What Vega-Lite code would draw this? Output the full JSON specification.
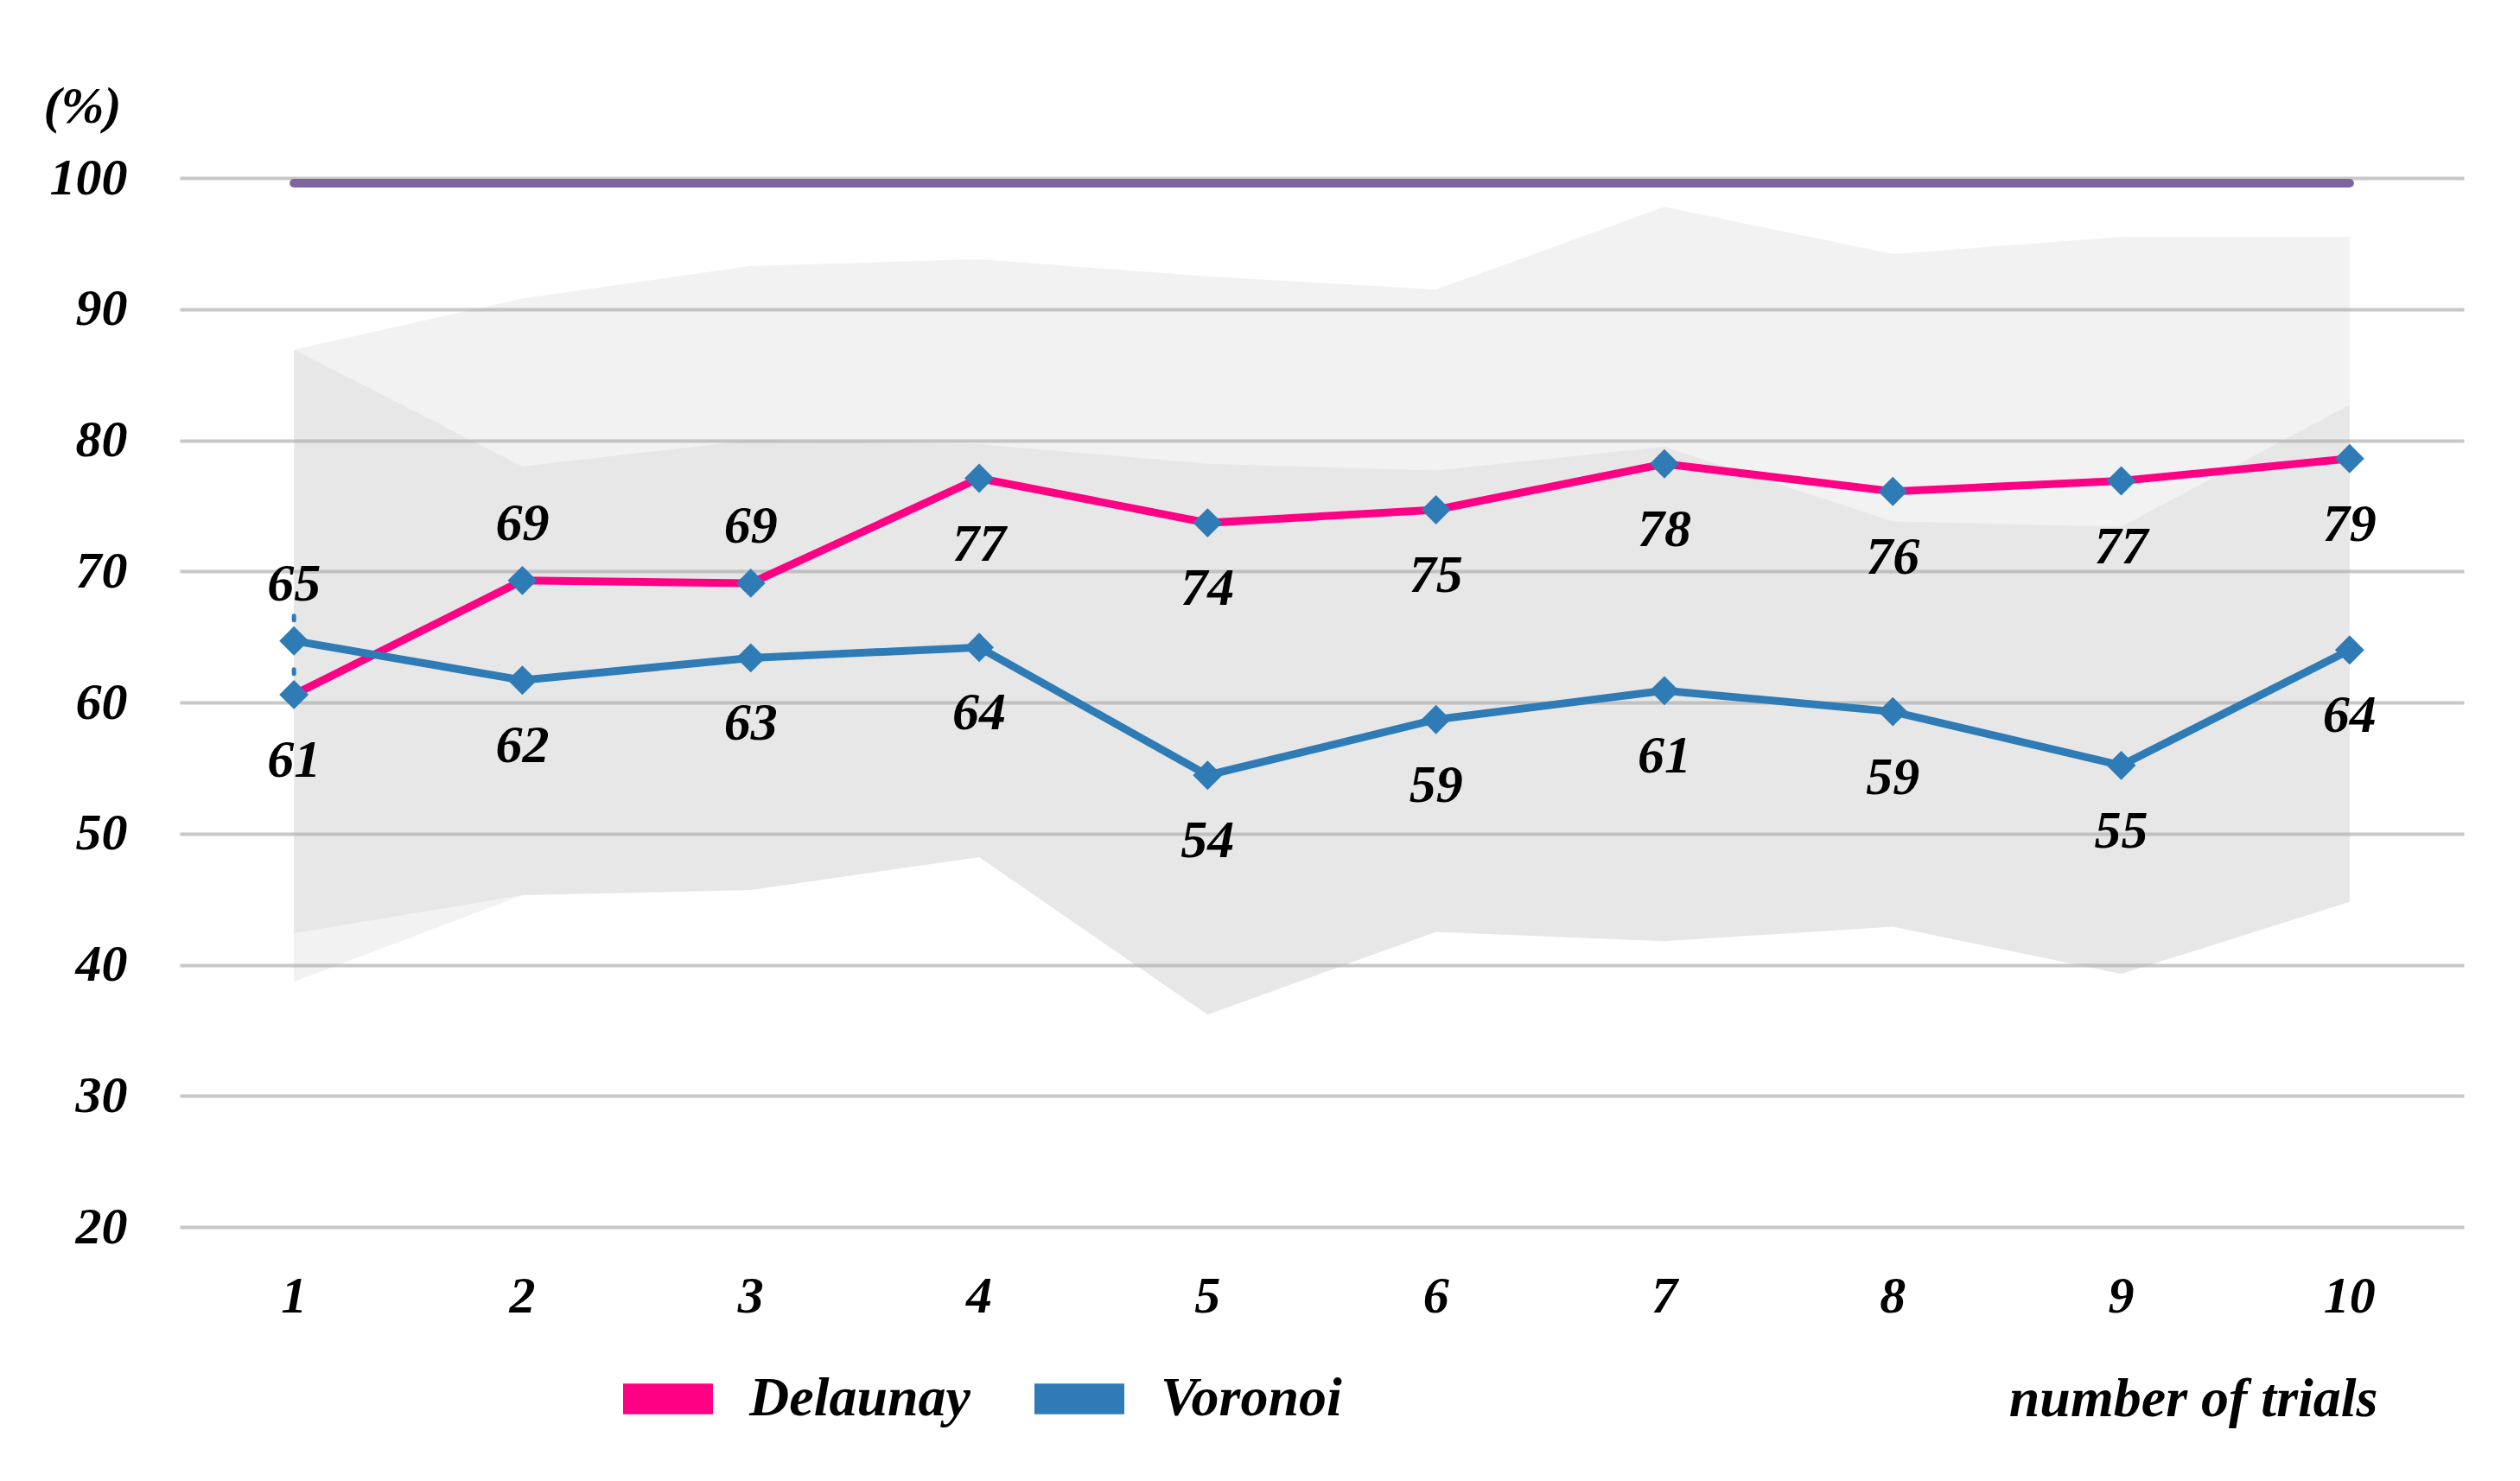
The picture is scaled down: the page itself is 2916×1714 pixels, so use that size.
{
  "$schema": "https://vega.github.io/schema/vega-lite/v6.json",
  "width": 2643,
  "height": 1214,
  "autosize": {"type": "none"},
  "padding": {"left": 208, "top": 206, "right": 65, "bottom": 294},
  "background": "white",
  "datasets": {
    "series": [
      {"trial": 1, "method": "Delaunay", "rate": 60.6},
      {"trial": 2, "method": "Delaunay", "rate": 69.3},
      {"trial": 3, "method": "Delaunay", "rate": 69.1},
      {"trial": 4, "method": "Delaunay", "rate": 77.1},
      {"trial": 5, "method": "Delaunay", "rate": 73.7},
      {"trial": 6, "method": "Delaunay", "rate": 74.7},
      {"trial": 7, "method": "Delaunay", "rate": 78.2},
      {"trial": 8, "method": "Delaunay", "rate": 76.1},
      {"trial": 9, "method": "Delaunay", "rate": 76.9},
      {"trial": 10, "method": "Delaunay", "rate": 78.6},
      {"trial": 1, "method": "Voronoi", "rate": 64.7},
      {"trial": 2, "method": "Voronoi", "rate": 61.7},
      {"trial": 3, "method": "Voronoi", "rate": 63.4},
      {"trial": 4, "method": "Voronoi", "rate": 64.2},
      {"trial": 5, "method": "Voronoi", "rate": 54.45},
      {"trial": 6, "method": "Voronoi", "rate": 58.7},
      {"trial": 7, "method": "Voronoi", "rate": 60.9},
      {"trial": 8, "method": "Voronoi", "rate": 59.3},
      {"trial": 9, "method": "Voronoi", "rate": 55.2},
      {"trial": 10, "method": "Voronoi", "rate": 64.0}
    ],
    "bands": [
      {"trial": 1, "band": "Delaunay", "upper": 86.9, "lower": 38.7},
      {"trial": 2, "band": "Delaunay", "upper": 90.8, "lower": 45.3},
      {"trial": 3, "band": "Delaunay", "upper": 93.3, "lower": 45.7},
      {"trial": 4, "band": "Delaunay", "upper": 93.8, "lower": 48.2},
      {"trial": 5, "band": "Delaunay", "upper": 92.5, "lower": 36.2},
      {"trial": 6, "band": "Delaunay", "upper": 91.5, "lower": 42.5},
      {"trial": 7, "band": "Delaunay", "upper": 97.8, "lower": 41.8},
      {"trial": 8, "band": "Delaunay", "upper": 94.2, "lower": 42.9},
      {"trial": 9, "band": "Delaunay", "upper": 95.5, "lower": 39.3},
      {"trial": 10, "band": "Delaunay", "upper": 95.5, "lower": 44.8},
      {"trial": 1, "band": "Voronoi", "upper": 86.9, "lower": 42.4},
      {"trial": 2, "band": "Voronoi", "upper": 78.0, "lower": 45.3},
      {"trial": 3, "band": "Voronoi", "upper": 80.0, "lower": 45.7},
      {"trial": 4, "band": "Voronoi", "upper": 79.7, "lower": 48.2},
      {"trial": 5, "band": "Voronoi", "upper": 78.2, "lower": 36.2},
      {"trial": 6, "band": "Voronoi", "upper": 77.7, "lower": 42.5},
      {"trial": 7, "band": "Voronoi", "upper": 79.5, "lower": 41.8},
      {"trial": 8, "band": "Voronoi", "upper": 73.8, "lower": 42.9},
      {"trial": 9, "band": "Voronoi", "upper": 73.4, "lower": 39.3},
      {"trial": 10, "band": "Voronoi", "upper": 82.7, "lower": 44.8}
    ],
    "ref": [
      {"trial": 1, "rate": 99.6},
      {"trial": 2, "rate": 99.6},
      {"trial": 3, "rate": 99.6},
      {"trial": 4, "rate": 99.6},
      {"trial": 5, "rate": 99.6},
      {"trial": 6, "rate": 99.6},
      {"trial": 7, "rate": 99.6},
      {"trial": 8, "rate": 99.6},
      {"trial": 9, "rate": 99.6},
      {"trial": 10, "rate": 99.6}
    ],
    "err": [
      {"trial": 1, "high": 66.6, "low": 60.6}
    ]
  },
  "config": {
    "view": {"stroke": null},
    "font": "Liberation Serif",
    "axis": {
      "domain": false,
      "ticks": false,
      "labelFont": "Liberation Serif",
      "labelFontStyle": "italic",
      "labelFontWeight": "bold",
      "labelFontSize": 60,
      "labelColor": "black",
      "titleFont": "Liberation Serif",
      "titleFontStyle": "italic",
      "titleFontWeight": "bold",
      "titleColor": "black"
    },
    "axisX": {
      "grid": false,
      "labelAngle": 0,
      "labelBaseline": "middle",
      "labelPadding": 80,
      "titleFontSize": 64,
      "titleX": 2543,
      "titleY": 199,
      "titleAlign": "right",
      "titleAnchor": "end",
      "titleBaseline": "middle"
    },
    "axisY": {
      "grid": true,
      "gridColor": "#c8c8c8",
      "gridWidth": 4,
      "labelPadding": 61,
      "titleFontSize": 60,
      "titleAngle": 0,
      "titleX": -158,
      "titleY": -83,
      "titleAlign": "left",
      "titleAnchor": "start",
      "titleBaseline": "middle"
    },
    "legend": {"labelLimit": 0}
  },
  "encoding": {
    "x": {
      "field": "trial",
      "type": "ordinal",
      "title": "number of trials",
      "scale": {"paddingInner": 0, "paddingOuter": 0}
    }
  },
  "layer": [
    {
      "data": {"name": "bands"},
      "mark": {"type": "area", "fill": "#b0b0b0", "opacity": 0.17},
      "encoding": {
        "y": {
          "field": "upper",
          "type": "quantitative",
          "title": "(%)",
          "scale": {"domain": [20, 100], "nice": false, "zero": false},
          "axis": {"values": [20, 30, 40, 50, 60, 70, 80, 90, 100]}
        },
        "y2": {"field": "lower"},
        "detail": {"field": "band"}
      }
    },
    {
      "data": {"name": "ref"},
      "mark": {"type": "line", "stroke": "#8064A2", "strokeWidth": 10, "strokeCap": "round"},
      "encoding": {
        "y": {"field": "rate", "type": "quantitative", "title": "(%)"}
      }
    },
    {
      "data": {"name": "err"},
      "mark": {"type": "rule", "stroke": "#2E7BB6", "strokeWidth": 5, "strokeDash": [5, 26], "strokeCap": "round"},
      "encoding": {
        "y": {"field": "high", "type": "quantitative", "title": "(%)"},
        "y2": {"field": "low"}
      }
    },
    {
      "data": {"name": "series"},
      "mark": {"type": "line", "strokeWidth": 9},
      "encoding": {
        "y": {"field": "rate", "type": "quantitative", "title": "(%)"},
        "color": {
          "field": "method",
          "type": "nominal",
          "scale": {"domain": ["Delaunay", "Voronoi"], "range": ["#FF0084", "#2E7BB6"]},
          "legend": {
            "orient": "none",
            "legendX": 513,
            "legendY": 1361,
            "direction": "horizontal",
            "title": null,
            "labelFont": "Liberation Serif",
            "labelFontStyle": "italic",
            "labelFontWeight": "bold",
            "labelFontSize": 64,
            "labelColor": "black",
            "labelLimit": 0,
            "labelOffset": 42,
            "columnPadding": 74,
            "symbolType": "M-1,-0.34L1,-0.34L1,0.34L-1,0.34Z",
            "symbolSize": 10816,
            "symbolStrokeWidth": 0,
            "encode": {
              "symbols": {
                "update": {
                  "fill": {"scale": "color", "field": "value"},
                  "fillOpacity": {"value": 1},
                  "strokeWidth": {"value": 0}
                }
              }
            }
          }
        }
      }
    },
    {
      "data": {"name": "series"},
      "mark": {"type": "point", "shape": "diamond", "filled": true, "fill": "#2E7BB6", "opacity": 1, "size": 1150, "strokeWidth": 0},
      "encoding": {
        "y": {"field": "rate", "type": "quantitative", "title": "(%)"}
      }
    },
    {
      "data": {"name": "series"},
      "transform": [
        {"filter": "!((datum.method === 'Delaunay' && (datum.trial === 2 || datum.trial === 3)) || (datum.method === 'Voronoi' && datum.trial === 1))"}
      ],
      "mark": {"type": "text", "font": "Liberation Serif", "fontStyle": "italic", "fontWeight": "bold", "fontSize": 62, "color": "black", "baseline": "middle", "dy": 76},
      "encoding": {
        "y": {"field": "rate", "type": "quantitative", "title": "(%)"},
        "text": {"field": "rate", "type": "quantitative", "format": ".0f"}
      }
    },
    {
      "data": {"name": "series"},
      "transform": [
        {"filter": "(datum.method === 'Delaunay' && (datum.trial === 2 || datum.trial === 3)) || (datum.method === 'Voronoi' && datum.trial === 1)"}
      ],
      "mark": {"type": "text", "font": "Liberation Serif", "fontStyle": "italic", "fontWeight": "bold", "fontSize": 62, "color": "black", "baseline": "middle", "dy": -66},
      "encoding": {
        "y": {"field": "rate", "type": "quantitative", "title": "(%)"},
        "text": {"field": "rate", "type": "quantitative", "format": ".0f"}
      }
    }
  ]
}
